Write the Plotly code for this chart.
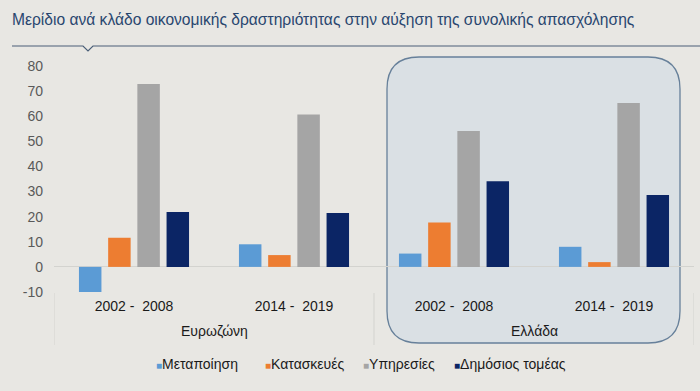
import plotly.graph_objects as go

regions = ["Ευρωζώνη", "Ευρωζώνη", "Ελλάδα", "Ελλάδα"]
periods = ["2002 -\u00a0 2008", "2014 -\u00a0 2019", "2002 -\u00a0 2008", "2014 -\u00a0 2019"]
group_names = ["Ευρωζώνη", "Ελλάδα"]

series_names = ["Μεταποίηση", "Κατασκευές", "Υπηρεσίες", "Δημόσιος τομέας"]
manufacturing = [-10, 9, 5.3, 8]
construction = [11.6, 4.7, 17.7, 1.9]
services = [72.8, 60.7, 54.1, 65.3]
public_sector = [21.9, 21.5, 34.1, 28.6]
series_values = [manufacturing, construction, services, public_sector]
colors = ["#5b9bd5", "#ed7d31", "#a5a5a5", "#0b2565"]

ytick_vals = [-10, 0, 10, 20, 30, 40, 50, 60, 70, 80]
ytick_text = ["-10", "0", "10", "20", "30", "40", "50", "60", "70", "80"]

# unique category keys (region + period); ticks show only the period
cat_keys = [f"{g} {p}" for g, p in zip(regions, periods)]

fig = go.Figure()
for name, vals, col in zip(series_names, series_values, colors):
    fig.add_trace(go.Bar(x=cat_keys, y=vals, name=name, showlegend=False,
                         marker=dict(color=col, line=dict(width=0))))

# legend entries: small coloured square glued to the label, as in the original
legend_widths = [64, 53, 46, 125]
for name, col, lw in zip(series_names, colors, legend_widths):
    fig.add_trace(go.Scatter(
        x=[cat_keys[0]], y=[None], mode="markers", legendwidth=lw,
        name=f"<span style='color:{col};font-size:10px'>■</span>{name}",
        marker=dict(size=0.1, color="rgba(0,0,0,0)", line=dict(width=0)),
        hoverinfo="skip"))

# plot area in pixels
L, R, T, B = 54, 694, 66, 292
W, H = R - L, B - T

def px(x):
    return (x - L) / W

def py(y):
    return (B - y) / H

# rounded rectangle around Greece
x0, x1, y0, y1, r = 387, 680, 57, 343, 32
path = (f"M {px(x0 + r)},{py(y0)} L {px(x1 - r)},{py(y0)} "
        f"Q {px(x1)},{py(y0)} {px(x1)},{py(y0 + r)} "
        f"L {px(x1)},{py(y1 - r)} Q {px(x1)},{py(y1)} {px(x1 - r)},{py(y1)} "
        f"L {px(x0 + r)},{py(y1)} Q {px(x0)},{py(y1)} {px(x0)},{py(y1 - r)} "
        f"L {px(x0)},{py(y0 + r)} Q {px(x0)},{py(y0)} {px(x0 + r)},{py(y0)} Z")
fig.add_shape(type="path", path=path, xref="paper", yref="paper", layer="below",
              fillcolor="#dae0e4", line=dict(color="#67809a", width=1.3))

# title underline with notch
lp = (f"M {px(12)},{py(46)} L {px(83)},{py(46)} L {px(88)},{py(51)} "
      f"L {px(93)},{py(46)} L {px(700)},{py(46)}")
fig.add_shape(type="path", path=lp, xref="paper", yref="paper",
              line=dict(color="#4a5f78", width=1.2))

# group dividers and group labels under the period labels
n_per_group = len(cat_keys) // len(group_names)
for k in range(len(group_names) + 1):
    xd = k * n_per_group - 0.5
    fig.add_shape(type="line", xref="x", yref="paper", x0=xd, x1=xd,
                  y0=py(293), y1=py(345), line=dict(color="#d3d3cf", width=1))
for k, g in enumerate(group_names):
    fig.add_annotation(text=g, xref="x", yref="paper", x=k * n_per_group + (n_per_group - 1) / 2,
                       y=py(331), showarrow=False, yanchor="middle",
                       font=dict(size=14, color="#1a1a1a"))

fig.update_layout(
    width=700, height=391,
    margin=dict(l=L, r=700 - R, t=T, b=391 - B, autoexpand=False),
    paper_bgcolor="#e8e7e3", plot_bgcolor="rgba(0,0,0,0)",
    font=dict(family="Liberation Sans, Arial, sans-serif", size=14, color="#1a1a1a"),
    title=dict(text="Μερίδιο ανά κλάδο οικονομικής δραστηριότητας στην αύξηση της συνολικής απασχόλησης",
               x=12 / 700, xanchor="left", xref="container", y=1 - 20 / 391, yanchor="middle",
               yref="container", font=dict(size=15.6, color="#28466f")),
    barmode="group", bargap=0.27, bargroupgap=0.23,
    showlegend=True,
    legend=dict(orientation="h", x=px(116), xanchor="left", y=py(364), yanchor="middle",
                font=dict(size=14, color="#1a1a1a"), itemwidth=30,
                bgcolor="rgba(0,0,0,0)",
                traceorder="normal", itemclick=False, itemdoubleclick=False),
    xaxis=dict(type="category", tickvals=cat_keys, ticktext=periods, range=[-0.5, 3.5],
               showgrid=False, showline=False, ticks="",
               tickfont=dict(size=14, color="#1a1a1a"), automargin=False, ticklabelstandoff=4),
    yaxis=dict(range=[-10, 80], tickvals=ytick_vals, ticktext=ytick_text, showgrid=False,
               showline=False, zeroline=True, zerolinecolor="#d3d3cf", zerolinewidth=1,
               tickfont=dict(size=14, color="#595959"), ticklabelstandoff=10, automargin=False),
)

fig.write_html("out.html", config={"displayModeBar": False},
               post_script="document.body.style.margin='0px';")
